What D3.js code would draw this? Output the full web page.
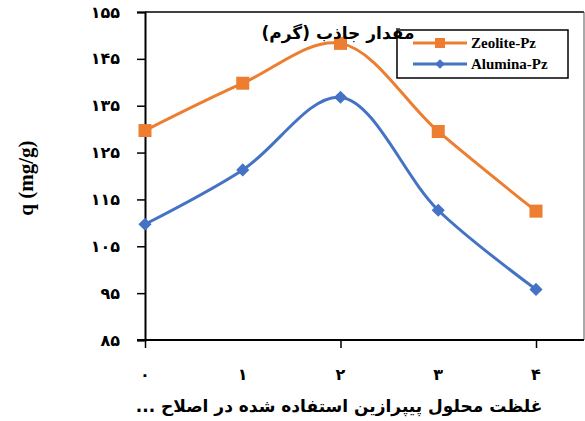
<!DOCTYPE html>
<html>
<head>
<meta charset="utf-8">
<script src="https://cdn.jsdelivr.net/npm/d3@7"></script>
<style>
  html, body { margin: 0; padding: 0; background: #fff; }
  svg { display: block; }
</style>
</head>
<body>
<svg id="chart" width="585" height="421"></svg>
<script>
// Piperazine concentration (x) vs. adsorption capacity q (mg/g)
const xValues = [0, 1, 2, 3, 4];
const xTickLabels = ["۰", "۱", "۲", "۳", "۴"];
const zeolitePz = [129.7, 139.8, 148.3, 129.5, 112.5];
const aluminaPz = [109.7, 121.3, 136.8, 112.7, 95.8];
const yTicks = [85, 95, 105, 115, 125, 135, 145, 155];
const yTickLabels = ["۸۵", "۹۵", "۱۰۵", "۱۱۵", "۱۲۵", "۱۳۵", "۱۴۵", "۱۵۵"];
const seriesNames = ["Zeolite-Pz", "Alumina-Pz"];

const svg = d3.select("#chart");
const plotL = 145, plotT = 12, plotR = 584, plotB = 340;

const x = d3.scaleLinear().domain([0, 4]).range([plotL, 536]);
const y = d3.scaleLinear().domain([85, 155]).range([plotB, plotT]);

const persianFont = "'DejaVu Sans', sans-serif";
const serifFont = "'Liberation Serif', 'Times New Roman', serif";

// plot frame (top and right edges)
svg.append("line").attr("x1", plotL).attr("x2", plotR).attr("y1", plotT).attr("y2", plotT)
  .attr("stroke", "#000").attr("stroke-width", 1.5);
svg.append("line").attr("x1", plotR).attr("x2", plotR).attr("y1", plotT).attr("y2", plotB)
  .attr("stroke", "#555").attr("stroke-width", 1);

// y axis
const yAxis = svg.append("g").attr("transform", `translate(${plotL},0)`)
  .call(d3.axisLeft(y).tickValues(yTicks).tickSize(8).tickFormat((d, i) => yTickLabels[i]));
yAxis.select(".domain").attr("stroke", "#000").attr("stroke-width", 2);
yAxis.selectAll(".tick line").attr("stroke", "#000").attr("stroke-width", 1.5);
yAxis.selectAll(".tick text").attr("x", -25)
  .attr("font-family", persianFont).attr("font-weight", "bold").attr("font-size", 16).attr("fill", "#000");

// x axis: tick marks at even values, labels at every value
const xAxis = svg.append("g").attr("transform", `translate(0,${plotB})`)
  .call(d3.axisBottom(x).tickValues([0, 2, 4]).tickSize(8).tickFormat(""));
xAxis.select(".domain").remove();
svg.append("line").attr("x1", plotL - 8).attr("x2", plotR).attr("y1", plotB).attr("y2", plotB)
  .attr("stroke", "#000").attr("stroke-width", 2);
xAxis.selectAll(".tick line").attr("stroke", "#000").attr("stroke-width", 1.5);

svg.append("g").selectAll("text").data(xValues).join("text")
  .attr("x", d => x(d)).attr("y", 380)
  .attr("text-anchor", "middle")
  .attr("font-family", persianFont).attr("font-weight", "bold").attr("font-size", 16)
  .text((d, i) => xTickLabels[i]);

// axis titles
svg.append("text")
  .attr("x", 339).attr("y", 412)
  .attr("text-anchor", "middle").attr("direction", "rtl")
  .attr("font-family", persianFont).attr("font-weight", "bold").attr("font-size", 17)
  .text("غلظت محلول پیپرازین استفاده شده در اصلاح ...");

svg.append("text")
  .attr("transform", "translate(33,178) rotate(-90)")
  .attr("text-anchor", "middle")
  .attr("font-family", serifFont).attr("font-weight", "bold").attr("font-size", 21)
  .text("q (mg/g)");

// series lines
const line = d3.line().x((d, i) => x(xValues[i])).y(d => y(d)).curve(d3.curveCatmullRom);
const colors = ["#ED7D31", "#4472C4"];
[zeolitePz, aluminaPz].forEach((s, k) => {
  svg.append("path").datum(s).attr("d", line)
    .attr("fill", "none").attr("stroke", colors[k]).attr("stroke-width", 3);
});

// markers
const sq = 13;
svg.append("g").selectAll("rect").data(zeolitePz).join("rect")
  .attr("x", (d, i) => x(xValues[i]) - sq / 2).attr("y", d => y(d) - sq / 2)
  .attr("width", sq).attr("height", sq).attr("fill", colors[0]);
const diamond = d3.symbol().type(d3.symbolDiamond2).size(110);
svg.append("g").selectAll("path").data(aluminaPz).join("path")
  .attr("transform", (d, i) => `translate(${x(xValues[i])},${y(d)})`)
  .attr("d", diamond).attr("fill", colors[1]);

// legend
const lg = svg.append("g");
lg.append("rect").attr("x", 397).attr("y", 30).attr("width", 171).attr("height", 48)
  .attr("fill", "#fff").attr("stroke", "#000").attr("stroke-width", 1.5);
seriesNames.forEach((name, k) => {
  const cy = 43 + k * 21;
  lg.append("line").attr("x1", 413).attr("x2", 467).attr("y1", cy).attr("y2", cy)
    .attr("stroke", colors[k]).attr("stroke-width", 3);
  if (k === 0) {
    lg.append("rect").attr("x", 440 - 5).attr("y", cy - 5).attr("width", 10).attr("height", 10)
      .attr("fill", colors[0]);
  } else {
    lg.append("path").attr("transform", `translate(440,${cy})`)
      .attr("d", d3.symbol().type(d3.symbolDiamond2).size(60)).attr("fill", colors[1]);
  }
  lg.append("text").attr("x", 471).attr("y", cy + 5)
    .attr("font-family", serifFont).attr("font-weight", "bold").attr("font-size", 15)
    .text(name);
});

// chart title, drawn over the legend box
svg.append("text")
  .attr("x", 338).attr("y", 39)
  .attr("text-anchor", "middle").attr("direction", "rtl")
  .attr("font-family", persianFont).attr("font-weight", "bold").attr("font-size", 17)
  .text("مقدار جاذب (گرم)");
</script>
</body>
</html>
